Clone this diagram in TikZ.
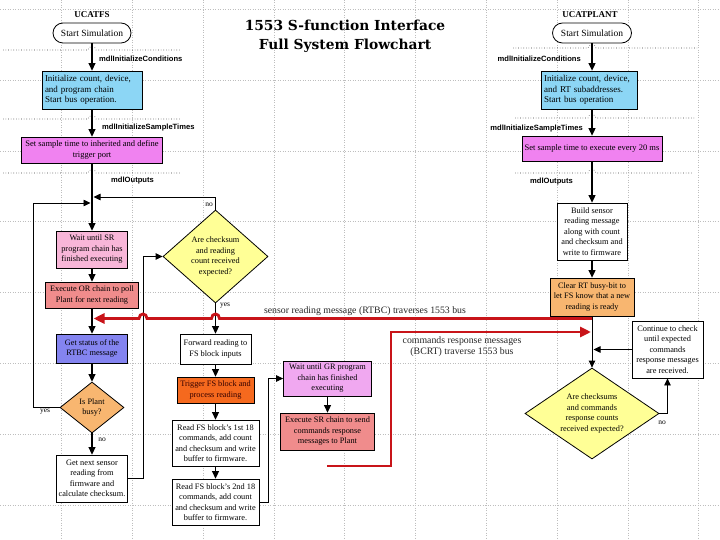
\documentclass[tikz,border=0pt]{standalone}
\usepackage{fontspec}
\setmainfont{Liberation Serif}
\newfontfamily\titlefont{DejaVu Serif}
\newfontfamily\lblfont{Liberation Sans}
\usetikzlibrary{arrows.meta,shapes.geometric}
\definecolor{cyanbox}{RGB}{140,214,245}
\definecolor{magbox}{RGB}{240,130,240}
\definecolor{pinkbox}{RGB}{248,182,216}
\definecolor{salmonbox}{RGB}{240,140,140}
\definecolor{bluebox}{RGB}{132,132,240}
\definecolor{ltorange}{RGB}{248,182,112}
\definecolor{orangered}{RGB}{245,105,30}
\definecolor{diayellow}{RGB}{255,255,150}
\definecolor{plumbox}{RGB}{240,168,240}
\definecolor{busred}{RGB}{200,20,25}
\definecolor{gridgray}{RGB}{190,190,190}
\tikzset{
  gridl/.style={gridgray, dotted, line width=0.5pt},
  sepl/.style={black!75, dotted, line width=0.6pt},
  box/.style={draw, line width=0.8pt, inner sep=0pt, align=center, fill=white,
    font=\fontsize{8.3}{10.5}\selectfont},
  startbox/.style={draw, rounded corners=10pt, minimum width=78pt, minimum height=20pt,
    inner sep=0pt, fill=white, line width=0.8pt, font=\fontsize{9.5}{11}\selectfont},
  dia/.style={diamond, draw, line width=0.8pt, inner sep=0pt},
  diatext/.style={align=center, inner sep=0pt, font=\fontsize{8.3}{10.4}\selectfont},
  fnlbl/.style={font=\lblfont\bfseries\fontsize{7.6}{9}\selectfont, inner sep=0pt},
  small/.style={font=\fontsize{7.5}{9}\selectfont, inner sep=0pt},
  redlbl/.style={font=\fontsize{9.8}{11}\selectfont, inner sep=0pt, align=center, text=black!85},
  arr/.style={-{Triangle[length=7pt,width=6.5pt]}, line width=0.8pt},
  flow/.style={-{Triangle[length=7.5pt,width=7pt]}, line width=1.3pt},
  redline/.style={busred, line width=2.8pt, -{Triangle[length=11pt,width=10pt]}}
}
\begin{document}
\begin{tikzpicture}[x=1pt,y=-1pt]
\useasboundingbox[fill=white] (0,0) rectangle (720,540);
% background grid
\foreach \gx in {61.4,132.2,203,273.8,344.6,415.4,486.2,557,627.8,698.6}
  \draw[gridl] (\gx,0) -- (\gx,540);
\foreach \gy in {9.2,80,150.8,221.6,292.4,363.2,434,504.8}
  \draw[gridl] (0,\gy) -- (720,\gy);

% title
\node[font=\titlefont\bfseries\fontsize{13.8}{19}\selectfont, align=center, inner sep=0pt] (title) at (345,36.5) {1553 S-function Interface\\Full System Flowchart};
\node[font=\bfseries\fontsize{9}{10}\selectfont, inner sep=0pt] (hdrL) at (92,15) {UCATFS};
\node[font=\bfseries\fontsize{9}{10}\selectfont, inner sep=0pt] (hdrR) at (590,15) {UCATPLANT};

% separators (dotted, hopping over the arrows)
\draw[sepl] (3,50) -- (88,50) .. controls (88,45.5) and (96,45.5) .. (96,50) -- (180,50);
\draw[sepl] (3,119) -- (88,119) .. controls (88,114.5) and (96,114.5) .. (96,119) -- (180,119);
\draw[sepl] (3,173) -- (88,173) .. controls (88,168.5) and (96,168.5) .. (96,173) -- (180,173);
\draw[sepl] (513,48) -- (588,48) .. controls (588,43.5) and (596,43.5) .. (596,48) -- (697,48);
\draw[sepl] (515,118) -- (588,118) .. controls (588,113.5) and (596,113.5) .. (596,118) -- (695,118);
\draw[sepl] (515,173) -- (588,173) .. controls (588,168.5) and (596,168.5) .. (596,173) -- (692,173);

% ---------- left column (UCATFS) ----------
\node[startbox] (startL) at (92,33) {Start Simulation};
\node[box, fill=cyanbox, minimum height=38pt, text width=94pt, inner xsep=3pt, align=left,
  font=\fontsize{9}{10.5}\selectfont] (initL) at (92,90) {Initialize count, device,\\and program chain\\Start bus operation.};
\node[box, fill=magbox, minimum width=141pt, minimum height=26pt,
  font=\fontsize{8.5}{10.5}\selectfont] (sampleL) at (92,150) {Set sample time to inherited and define\\trigger port};
\node[box, fill=pinkbox, minimum width=71pt, minimum height=37pt] (waitSR) at (92,249.5) {Wait until SR\\program chain has\\finished executing};
\node[box, fill=salmonbox, minimum width=93pt, minimum height=26pt] (execOR) at (92,295) {Execute OR chain to poll\\Plant for next reading};
\node[box, fill=bluebox, minimum width=71pt, minimum height=29pt] (status) at (92,348.5) {Get status of the\\RTBC message};
\node[dia, fill=ltorange, minimum width=64pt, minimum height=51pt] (busy) at (92,407.5) {};
\node[diatext] (busyT) at (busy) {Is Plant\\busy?};
\node[box, minimum width=71pt, minimum height=47pt] (getnext) at (92,478.5) {Get next sensor\\reading from\\firmware and\\calculate checksum.};

\node[fnlbl, anchor=west] (lbl1) at (99,59) {mdlInitializeConditions};
\node[fnlbl, anchor=west] (lbl2) at (102,128) {mdlInitializeSampleTimes};
\node[fnlbl, anchor=west] (lbl3) at (111,181) {mdlOutputs};

% ---------- centre column ----------
\node[dia, fill=diayellow, minimum width=105pt, minimum height=93pt] (d1) at (215.5,256.5) {};
\node[diatext] (d1T) at (d1) {Are checksum\\and reading\\count received\\expected?};
\node[box, minimum width=71pt, minimum height=30pt] (forward) at (215.5,349) {Forward reading to\\FS block inputs};
\node[box, fill=orangered, minimum width=77pt, minimum height=26pt, text=black!80!red] (trigger) at (215.5,390) {Trigger FS block and\\process reading};
\node[box, minimum width=87pt, minimum height=46pt] (read1) at (215.5,443) {Read FS block's 1st 18\\commands, add count\\and checksum and write\\buffer to firmware.};
\node[box, minimum width=87pt, minimum height=46pt] (read2) at (215.5,502) {Read FS block's 2nd 18\\commands, add count\\and checksum and write\\buffer to firmware.};
\node[box, fill=plumbox, minimum width=88pt, minimum height=35pt] (waitGR) at (327.5,378.5) {Wait until GR program\\chain has finished\\executing};
\node[box, fill=salmonbox, minimum width=94pt, minimum height=37pt] (execSR) at (327.5,431.5) {Execute SR chain to send\\commands response\\messages to Plant};

% ---------- right column (UCATPLANT) ----------
\node[startbox, minimum width=79pt] (startR) at (592,33) {Start Simulation};
\node[box, fill=cyanbox, minimum height=38pt, text width=90pt, inner xsep=3pt, align=left,
  font=\fontsize{9}{10.5}\selectfont] (initR) at (589,90) {Initialize count, device,\\and RT subaddresses.\\Start bus operation};
\node[box, fill=magbox, minimum width=140pt, minimum height=25pt,
  font=\fontsize{8.5}{10.5}\selectfont] (sampleR) at (592,148.5) {Set sample time to execute every 20 ms};
\node[box, minimum width=70pt, minimum height=57pt] (build) at (592,231.5) {Build sensor\\reading message\\along with count\\and checksum and\\write to firmware};
\node[box, fill=ltorange, minimum width=84pt, minimum height=38pt] (clear) at (592,297) {Clear RT busy-bit to\\let FS know that a new\\reading is ready};
\node[box, minimum width=71pt, minimum height=57pt] (cont) at (667.5,349.5) {Continue to check\\until expected\\commands\\response messages\\are received.};
\node[dia, fill=diayellow, minimum width=134pt, minimum height=91pt] (d2) at (592,413.5) {};
\node[diatext] (d2T) at (d2) {Are checksums\\and commands\\response counts\\received expected?};

\node[fnlbl, anchor=east] (lbl4) at (581,59) {mdlInitializeConditions};
\node[fnlbl, anchor=east] (lbl5) at (583,129) {mdlInitializeSampleTimes};
\node[fnlbl, anchor=east] (lbl6) at (573,182) {mdlOutputs};

% junction points on vertical flows
\coordinate (jn1) at (93.5,197);
\coordinate (jn2) at (90.5,203);
\coordinate (jn3) at (593.5,349.5);
\coordinate (rtbcS) at (592,318.5);
\coordinate (rtbcE) at (93.5,318.5);
\coordinate (bcrtS) at (327,466);
\coordinate (bcrtE) at (591,332);

% ---------- connectors ----------
\draw[flow] (startL.south) -- (initL.north);
\draw[flow] (initL.south) -- (sampleL.north);
\draw[flow] (sampleL.south) -- (waitSR.north);
\draw[flow] (waitSR.south) -- (execOR.north);
\draw[flow] (execOR.south) -- (status.north);
\draw[flow] (status.south) -- (busy.north);
\draw[flow] (busy.south) -- (getnext.north);
\draw[arr] (d1.north) |- (jn1);
\draw[arr] (busy.west) -- (33,407.5) |- (jn2);
\draw[arr] (getnext.east) -- (143,478.5) |- (d1.west);
\draw[flow] (d1.south) -- (forward.north);
\draw[flow] (forward.south) -- (trigger.north);
\draw[flow] (trigger.south) -- (read1.north);
\draw[flow] (read1.south) -- (read2.north);
\draw[arr] (read2.east) -- (268,502) |- (waitGR.west);
\draw[flow] (waitGR.south) -- (execSR.north);

\draw[flow] (startR.south) -- (startR.south |- initR.north);
\draw[flow] (startR.south |- initR.south) -- (sampleR.north);
\draw[flow] (sampleR.south) -- (build.north);
\draw[flow] (build.south) -- (clear.north);
\draw[arr] (clear.south) -- (d2.north);
\draw[arr] (cont.west) -- (jn3);
\draw[arr] (d2.east) -| (cont.south);

% branch labels
\node[small] (no1) at (209,205) {no};
\node[small] (yes1) at (225,306) {yes};
\node[small] (yes2) at (45,412) {yes};
\node[small] (no2) at (102,440) {no};
\node[small] (no3) at (662,423) {no};

% 1553 bus messages
\draw[redline] (rtbcS) -- (219.5,318.5) .. controls (219.5,312.5) and (211.5,312.5) .. (211.5,318.5)
  -- (147,318.5) .. controls (147,312.5) and (139,312.5) .. (139,318.5) -- (rtbcE);
\draw[redline] (bcrtS) -- (391,466) -- (391,332) -- (bcrtE);
\node[redlbl] (rtbcL) at (365,311) {sensor reading message (RTBC) traverses 1553 bus};
\node[redlbl, font=\fontsize{9.8}{11}\selectfont] (bcrtL) at (462,346.5) {commands response messages\\(BCRT) traverse 1553 bus};
\end{tikzpicture}
\end{document}
